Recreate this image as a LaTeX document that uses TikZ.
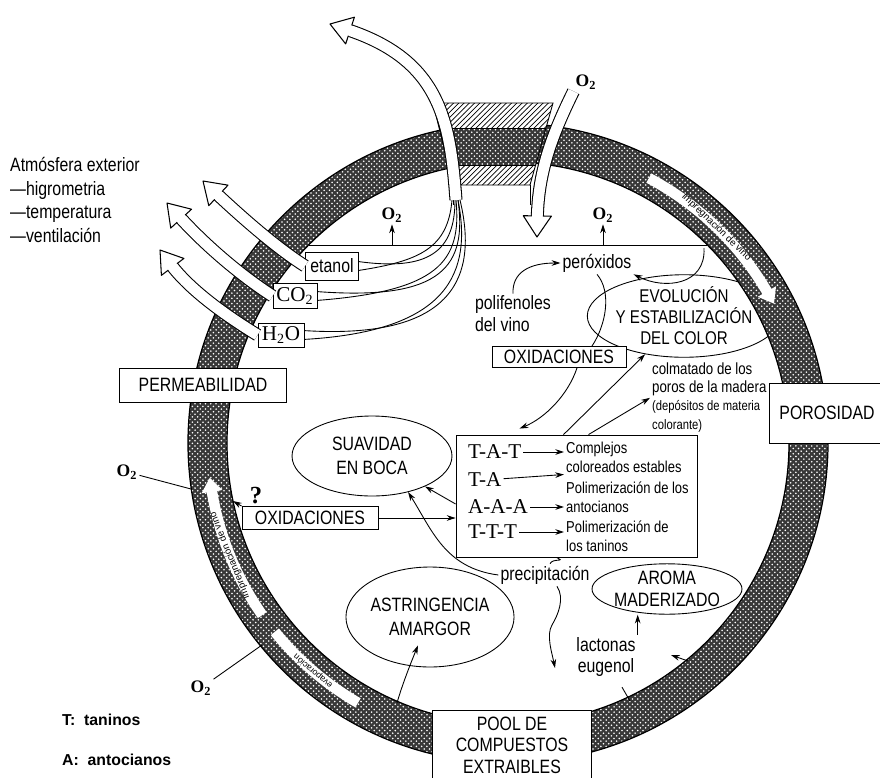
\documentclass[tikz,border=0pt]{standalone}
\usepackage{fontspec}
\setmainfont{Liberation Sans}
\newfontfamily\condfont[FakeStretch=0.82]{Liberation Sans}
\newfontfamily\chemfont{Liberation Serif}
\usetikzlibrary{shapes.geometric, patterns, decorations.markings, calc, arrows.meta}

\begin{document}
\begin{tikzpicture}[x=0.02cm, y=-0.02cm, line width=0.5pt,
    effect/.style={ellipse, draw, fill=white, inner sep=0pt, align=center, font=\condfont\fontsize{11}{13.5}\selectfont},
    frame/.style={rectangle, draw, fill=white, inner sep=0pt, align=center, font=\condfont\fontsize{11}{13}\selectfont},
    gasbox/.style={rectangle, draw, fill=white, inner sep=0pt},
    tag/.style={inner sep=1pt, align=left, font=\condfont\fontsize{11}{12.5}\selectfont},
    note/.style={inner sep=1pt, align=left, font=\condfont\fontsize{9}{10.8}\selectfont},
    chem/.style={inner sep=1pt, font=\chemfont\fontsize{12}{12}\selectfont},
    oxy/.style={inner sep=1pt, font=\chemfont\bfseries\fontsize{10}{10}\selectfont},
    woodtext/.style={inner sep=0pt, font=\fontsize{5.5}{5.5}\selectfont},
    flow/.style={-{Stealth[length=5pt, width=3.2pt]}},
    gas/.style={line join=round,
      preaction={draw=black, line width=7.4pt, shorten >=10pt},
      draw=white, line width=6.2pt, shorten >=10pt,
      postaction={decorate, decoration={markings, mark=at position 1 with {
        \fill[white, shorten >=0pt, shorten <=0pt] (-12pt,8pt) -- (0pt,0pt) -- (-12pt,-8pt) -- cycle;
        \draw[black, line width=0.6pt, shorten >=0pt, shorten <=0pt] (-12pt,3.1pt) -- (-12pt,8pt) -- (0pt,0pt) -- (-12pt,-8pt) -- (-12pt,-3.1pt);}}}},
    channel/.style={draw=white, line width=6pt},
    channelhead/.style={channel, postaction={decorate, decoration={markings, mark=at position 1 with {
        \fill[white] (-1pt,6pt) -- (7pt,0pt) -- (-1pt,-6pt) -- cycle;}}}},
  ]
\useasboundingbox (0,0) rectangle (880,778);

% efectos sobre el vino
\node[effect, minimum width=3.2cm, minimum height=1.6cm] at (372,456) (suav) {SUAVIDAD\\EN BOCA};
\node[effect, minimum width=3.12cm, minimum height=1.44cm, font=\condfont\fontsize{10.5}{12}\selectfont] at (684,316) (evol) {EVOLUCIÓN\\Y ESTABILIZACIÓN\\DEL COLOR};
\node[effect, minimum width=3.08cm, minimum height=2cm] at (430,617) (astr) {ASTRINGENCIA\\AMARGOR};
\node[effect, minimum width=3cm, minimum height=0.96cm, font=\condfont\fontsize{11}{12.5}\selectfont] at (667,589) (aroma) {AROMA\\MADERIZADO};

% anillo de la barrica
\coordinate (barrel) at (508,443);
\fill[black!78, even odd rule] (barrel) circle[radius=320] (barrel) circle[radius=281];
\fill[pattern=crosshatch dots, pattern color=white, even odd rule] (barrel) circle[radius=320] (barrel) circle[radius=281];
\draw[line width=0.7pt] (barrel) circle[radius=320] (barrel) circle[radius=281];

% canales en la madera
\draw[channelhead] (barrel) ++(-62:300) arc[start angle=-62, end angle=-30, radius=300];
\node[woodtext, rotate=-44] at ($(barrel)+(-46:300)$) (chanR) {impregnación de vino};
\draw[channelhead] (barrel) ++(145:300) arc[start angle=145, end angle=171, radius=300];
\node[woodtext, rotate=112] at ($(barrel)+(158:300)$) (chanL) {impregnación de vino};
\draw[channel] (barrel) ++(120:300) arc[start angle=120, end angle=141, radius=300];
\node[woodtext, rotate=139.5, font=\fontsize{5}{5}\selectfont] at ($(barrel)+(130.5:300)$) (chanB) {evaporación};

% tapon
\fill[white] (433,103) -- (553,103) -- (530,185) -- (453,185) -- cycle;
\fill[pattern=north east lines] (433,103) -- (553,103) -- (530,185) -- (453,185) -- cycle;
\begin{scope}
  \clip (433,103) -- (553,103) -- (530,185) -- (453,185) -- cycle;
  \fill[black!78] (420,128) rectangle (560,165);
  \fill[pattern=crosshatch dots, pattern color=white] (420,128) rectangle (560,165);
  \draw (420,128) -- (560,128) (420,165) -- (560,165);
\end{scope}
\draw (433,103) -- (553,103) -- (530,185) -- (453,185) -- cycle;
\draw (453,185) -- (453,205) (530,185) -- (530,205);

% nivel del vino
\coordinate (liqL) at (309,245);
\coordinate (liqR) at (707,245);
\draw (liqL) -- (liqR);

% cajas
\node[frame, minimum width=3.34cm, minimum height=0.68cm] at (203,385) (perm) {PERMEABILIDAD};
\node[frame, minimum width=2.3cm, minimum height=1.2cm] at (827,413) (poro) {POROSIDAD};
\node[frame, minimum width=3.18cm, minimum height=1.8cm] at (512,755) (pool) {};
\node[tag, align=center, font=\condfont\fontsize{11}{12.3}\selectfont] at (512,745) (poolname) {POOL DE\\COMPUESTOS\\EXTRAIBLES};
\node[frame, minimum width=2.68cm, minimum height=0.42cm] at (559,357) (oxup) {OXIDACIONES};
\node[frame, minimum width=2.72cm, minimum height=0.46cm] at (310,518) (oxlo) {OXIDACIONES};
\node[frame, minimum width=4.82cm, minimum height=2.44cm] at (576.5,496) (reac) {};
\node[gasbox, minimum width=1.06cm, minimum height=0.56cm, font=\condfont\fontsize{11}{12}\selectfont] at (332,266) (etanol) {etanol};
\node[gasbox, chem, minimum width=0.88cm, minimum height=0.5cm] at (295,296) (co2) {CO\textsubscript{2}};
\node[gasbox, chem, minimum width=0.92cm, minimum height=0.48cm] at (281,335) (h2o) {H\textsubscript{2}O};

% contenido del recuadro central
\node[chem, anchor=west] at (466,452) (tat) {T-A-T};
\node[chem, anchor=west] at (466,480) (ta) {T-A};
\node[chem, anchor=west] at (466,507) (aaa) {A-A-A};
\node[chem, anchor=west] at (466,532) (ttt) {T-T-T};
\node[note, anchor=west] at (564,457) (cplx) {Complejos\\coloreados estables};
\node[note, anchor=west] at (564,497) (poli1) {Polimerización de los\\antocianos};
\node[note, anchor=west] at (564,536) (poli2) {Polimerización de\\los taninos};
\draw[flow] (tat) -- (tat -| cplx.west);
\draw[flow] (ta) -- (cplx.south west);
\draw[flow] (aaa) -- (aaa -| poli1.west);
\draw[flow] (ttt) -- (ttt -| poli2.west);

% textos sueltos
\node[tag, anchor=west, font=\condfont\fontsize{11}{13.4}\selectfont] at (8,200) (atmos) {Atmósfera exterior\\—higrometria\\—temperatura\\—ventilación};
\node[tag] at (597,263) (perox) {peróxidos};
\node[tag] at (513,314) (polif) {polifenoles\\del vino};
\node[note, anchor=west, font=\condfont\fontsize{9.2}{10.2}\selectfont] at (650,379) (colm) {colmatado de los\\poros de la madera};
\node[note, anchor=west, font=\condfont\fontsize{7.8}{10.8}\selectfont] at (650,416) (depos) {(depósitos de materia\\colorante)};
\node[tag] at (545,575) (precip) {precipitación};
\node[tag, align=center] at (606,657) (lact) {lactonas\\eugenol};
\node[inner sep=1pt, font=\chemfont\bfseries\fontsize{14}{14}\selectfont] at (256,496) (quest) {?};
\node[inner sep=1pt, anchor=west, font=\bfseries\fontsize{9}{9}\selectfont] at (60,720) (keyT) {T:\ \ taninos};
\node[inner sep=1pt, anchor=west, font=\bfseries\fontsize{9}{9}\selectfont] at (60,760) (keyA) {A:\ \ antocianos};

% oxigeno
\node[oxy] at (586,82) (o2top) {O\textsubscript{2}};
\node[oxy] at (392,215) (o2a) {O\textsubscript{2}};
\node[oxy] at (603,215) (o2b) {O\textsubscript{2}};
\node[oxy] at (127,472) (o2l) {O\textsubscript{2}};
\node[oxy] at (201,688) (o2d) {O\textsubscript{2}};
\draw[flow] (o2a |- liqL) -- (o2a);
\draw[flow] (o2b |- liqL) -- (o2b);

% puntos en la madera
\coordinate (ringQ) at (233,501);
\coordinate (ringO1) at (191,489);
\coordinate (ringO2) at (262,645);
\coordinate (ringB) at (397,703);
\coordinate (ringE) at (630,701);
\coordinate (ringL) at (688,661);
\coordinate (lactin) at (671,655);
\coordinate (drip) at (555,668);
\coordinate (bung) at (456,200);
\coordinate (exitA) at (330,24);
\coordinate (o2in) at (537,237);
\coordinate (vent1) at (203,181);
\coordinate (vent2) at (167,203);
\coordinate (vent3) at (160,250);

% gases hacia el tapon
\draw ([yshift=-2.5pt]etanol.east) .. controls (420,261) and (448,248) .. (452,200);
\draw ([yshift=2.5pt]etanol.east) .. controls (428,271) and (455,252) .. (455,200);
\draw ([yshift=-2.5pt]co2.east) .. controls (438,291) and (462,262) .. (456,200);
\draw ([yshift=2.5pt]co2.east) .. controls (444,301) and (467,265) .. (458,200);
\draw ([yshift=-2.5pt]h2o.east) .. controls (450,331) and (472,272) .. (458,200);
\draw ([yshift=2.5pt]h2o.east) .. controls (456,340) and (478,275) .. (460,200);

% flechas huecas
\draw[gas] (bung) .. controls (450,120) and (440,60) .. (exitA);
\draw[gas] (o2top.south west) .. controls (552,135) and (538,172) .. (o2in);
\draw[gas] (etanol.west) .. controls (280,250) and (250,225) .. (vent1);
\draw[gas] (co2.west) .. controls (240,275) and (205,245) .. (vent2);
\draw[gas] (h2o.west) .. controls (225,315) and (190,290) .. (vent3);

% reacciones
\draw[flow] (polif.north) .. controls (512,272) and (530,263) .. (perox.west);
\draw (perox.south) .. controls (612,292) and (606,325) .. ($(oxup.north)+(33,0)$);
\draw[flow] ($(liqR)+(-3,3)$) .. controls (706,285) and (665,290) .. (perox.south east);
\draw[flow] ($(oxup.south)+(18,0)$) .. controls (568,395) and (545,418) .. ($(reac.north)+(-57,-6)$);
\draw[flow] ($(reac.north)+(-13,0)$) -- (evol);
\draw[flow] ($(reac.north)+(12,0)$) -- (depos.north west);
\draw[flow] (oxlo) -- (oxlo -| reac.west);
\draw[flow] ($(reac.west)+(0,8)$) -- (suav);
\draw[flow] (oxlo.north west) -- (ringQ);
\draw ($(reac.south)+(-20,0)$) .. controls +(10,5) and +(3,-6) .. ($(precip.north)+(5,0)$);
\draw[flow] (precip.west) .. controls (445,568) and (432,530) .. (suav.-45);
\draw[flow] ($(precip.south)+(12,0)$) .. controls +(8,12) and +(6,-10) .. (552,625) .. controls +(-6,10) and +(-3,-15) .. (drip);
\draw[flow] (lact.north east) -- (lact.north east |- aroma.south);
\draw[flow] (ringL) -- (lactin);
\draw ($(lact.south)+(16,8)$) -- (ringE);
\draw[flow] (ringB) .. controls (402,685) and (412,660) .. ($(astr.south)+(-12,-22)$);
\draw (o2l) -- (ringO1);
\draw (o2d) -- (ringO2);
\end{tikzpicture}
\end{document}
